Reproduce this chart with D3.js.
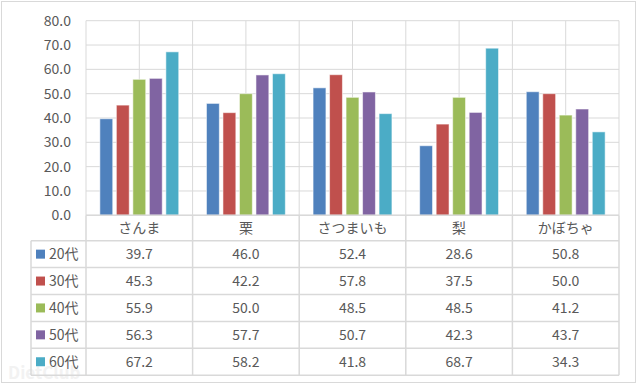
<!DOCTYPE html>
<html>
<head>
<meta charset="utf-8">
<script src="https://cdn.jsdelivr.net/npm/d3@7"></script>
<style>
  body { margin: 0; background: #fff; }
  text { font-family: "Noto Sans CJK JP", "Noto Sans", sans-serif; fill: #595959; }
</style>
</head>
<body>
<svg id="chart" width="640" height="385"></svg>
<script>
var categories = ['さんま', '栗', 'さつまいも', '梨', 'かぼちゃ'];
var seriesNames = ['20代', '30代', '40代', '50代', '60代'];
var colors = ['#4F81BD', '#C0504D', '#9BBB59', '#8064A2', '#4BACC6'];
var v20 = [39.7, 46.0, 52.4, 28.6, 50.8];
var v30 = [45.3, 42.2, 57.8, 37.5, 50.0];
var v40 = [55.9, 50.0, 48.5, 48.5, 41.2];
var v50 = [56.3, 57.7, 50.7, 42.3, 43.7];
var v60 = [67.2, 58.2, 41.8, 68.7, 34.3];
var yTicks = [0, 10, 20, 30, 40, 50, 60, 70, 80];

var series = [v20, v30, v40, v50, v60];

var svg = d3.select('#chart');

// outer frame
svg.append('rect')
    .attr('x', 1.5).attr('y', 1.5)
    .attr('width', 634).attr('height', 381)
    .attr('fill', '#fff')
    .attr('stroke', '#D9D9D9');

// faint watermark, behind everything else
svg.append('text')
    .attr('x', 8).attr('y', 379)
    .style('font-size', '17px')
    .style('font-weight', 'bold')
    .style('fill', '#f2f2f2')
    .text('DietClub');

var plotLeft = 86, plotRight = 619, plotTop = 20.7, plotBottom = 215.3;
var tableLeft = 31, headerH = 25.4, rowH = 26.9;

var x0 = d3.scaleBand().domain(categories).range([plotLeft, plotRight]);
var x1 = d3.scaleBand().domain(seriesNames)
    .range([0, x0.bandwidth()])
    .paddingInner(0.22).paddingOuter(0.84);
var y = d3.scaleLinear().domain([0, 80]).range([plotBottom, plotTop]);

var grid = svg.append('g').attr('stroke', '#D9D9D9').attr('stroke-width', 1);

// horizontal gridlines
grid.selectAll('line.h').data(yTicks).enter().append('line')
    .attr('x1', plotLeft).attr('x2', plotRight)
    .attr('y1', function(d) { return y(d); })
    .attr('y2', function(d) { return y(d); });

// vertical gridlines, at category edges and middles
var vx = [];
categories.forEach(function(c) {
    vx.push(x0(c));
    vx.push(x0(c) + x0.bandwidth() / 2);
});
vx.push(plotRight);
grid.selectAll('line.v').data(vx).enter().append('line')
    .attr('x1', function(d) { return d; })
    .attr('x2', function(d) { return d; })
    .attr('y1', plotTop).attr('y2', plotBottom);

// y axis labels
svg.append('g').selectAll('text').data(yTicks).enter().append('text')
    .attr('x', 71)
    .attr('y', function(d) { return y(d); })
    .attr('dy', '0.35em')
    .attr('text-anchor', 'end')
    .style('font-size', '14px')
    .text(function(d) { return d3.format('.1f')(d); });

// bars
var groups = svg.append('g').selectAll('g').data(categories).enter().append('g')
    .attr('transform', function(c) { return 'translate(' + x0(c) + ',0)'; });

groups.selectAll('rect')
    .data(function(c, i) {
        return seriesNames.map(function(s, j) { return { s: s, v: series[j][i], j: j }; });
    })
    .enter().append('rect')
    .attr('x', function(d) { return x1(d.s); })
    .attr('width', x1.bandwidth())
    .attr('y', function(d) { return y(d.v); })
    .attr('height', function(d) { return y(0) - y(d.v); })
    .attr('fill', function(d) { return colors[d.j]; })
    .attr('stroke', 'rgba(255,255,255,0.55)')
    .attr('stroke-width', 1);

// data table
var tbl = svg.append('g').attr('stroke', '#D9D9D9').attr('stroke-width', 1.5).attr('fill', 'none');
var tableBottom = plotBottom + headerH + rowH * seriesNames.length;

tbl.append('line').attr('x1', plotLeft).attr('x2', plotRight).attr('y1', plotBottom).attr('y2', plotBottom);
d3.range(seriesNames.length + 1).forEach(function(i) {
    var yy = plotBottom + headerH + rowH * i;
    tbl.append('line').attr('x1', tableLeft).attr('x2', plotRight).attr('y1', yy).attr('y2', yy);
});
tbl.append('line').attr('x1', tableLeft).attr('x2', tableLeft)
    .attr('y1', plotBottom + headerH).attr('y2', tableBottom);
categories.forEach(function(c) {
    tbl.append('line').attr('x1', x0(c)).attr('x2', x0(c)).attr('y1', plotBottom).attr('y2', tableBottom);
});
tbl.append('line').attr('x1', plotRight).attr('x2', plotRight).attr('y1', plotBottom).attr('y2', tableBottom);

// category labels
svg.append('g').selectAll('text').data(categories).enter().append('text')
    .attr('x', function(c) { return x0(c) + x0.bandwidth() / 2; })
    .attr('y', plotBottom + headerH / 2)
    .attr('dy', '0.35em')
    .attr('text-anchor', 'middle')
    .style('font-size', '14px')
    .text(function(c) { return c; });

// legend keys + series names + values
var rows = svg.append('g').selectAll('g').data(seriesNames).enter().append('g')
    .attr('transform', function(s, i) { return 'translate(0,' + (plotBottom + headerH + rowH * i + rowH / 2) + ')'; });

rows.append('rect')
    .attr('x', 36).attr('y', -4.5)
    .attr('width', 9).attr('height', 9)
    .attr('fill', function(s, i) { return colors[i]; });

rows.append('text')
    .attr('x', 49)
    .attr('dy', '0.35em')
    .style('font-size', '14px')
    .text(function(s) { return s; });

rows.selectAll('text.val')
    .data(function(s, i) { return series[i]; })
    .enter().append('text')
    .attr('class', 'val')
    .attr('x', function(v, k) { return x0(categories[k]) + x0.bandwidth() / 2; })
    .attr('dy', '0.35em')
    .attr('text-anchor', 'middle')
    .style('font-size', '14px')
    .text(function(v) { return d3.format('.1f')(v); });
</script>
</body>
</html>
